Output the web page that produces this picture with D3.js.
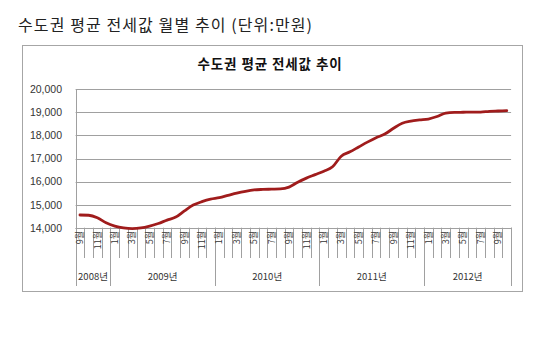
<!DOCTYPE html>
<html><head><meta charset="utf-8">
<script src="https://cdn.jsdelivr.net/npm/d3@7"></script>
<style>
html,body{margin:0;padding:0;background:#fff;}
svg{display:block;}
</style></head>
<body>
<svg id="c" width="550" height="340"></svg>
<script>
const pageTitle = "수도권 평균 전세값 월별 추이 (단위:만원)";
const chartTitle = "수도권 평균 전세값 추이";
const years = ["2008년","2009년","2010년","2011년","2012년"];
const yearMonthCounts = [4,12,12,12,10];
const monthNums = [9,10,11,12,
  1,2,3,4,5,6,7,8,9,10,11,12,
  1,2,3,4,5,6,7,8,9,10,11,12,
  1,2,3,4,5,6,7,8,9,10,11,12,
  1,2,3,4,5,6,7,8,9,10];
const values = [14550,14540,14430,14210,
  14070,13990,13960,13990,14070,14180,14330,14460,14730,14980,15130,15240,
  15300,15400,15500,15580,15640,15660,15670,15680,15760,15970,16150,16300,
  16450,16640,17100,17290,17500,17710,17900,18060,18310,18530,18620,18670,
  18710,18820,18970,19000,19005,19010,19010,19045,19060,19075];
const yTicks = [14000,15000,16000,17000,18000,19000,20000];

(function(){
const svg = d3.select("#c");
const font = "'Liberation Sans', 'Noto Sans CJK KR', sans-serif";
const kfont = "'Noto Sans CJK KR', sans-serif";

svg.append("text").attr("x",18).attr("y",31)
  .attr("font-family",kfont).attr("font-size",16).attr("letter-spacing",1.1).attr("fill","#222")
  .text(pageTitle);

svg.append("rect").attr("x",22.5).attr("y",45.5).attr("width",500).attr("height",246)
  .attr("fill","#fff").attr("stroke","#a6a6a6").attr("stroke-width",1);

svg.append("text").attr("x",270).attr("y",69)
  .attr("text-anchor","middle").attr("font-family",kfont).attr("font-weight","bold")
  .attr("font-size",13.5).attr("letter-spacing",0.9).attr("fill","#111").text(chartTitle);

const pL = 75.6, pR = 511.1, pT = 89.3, pB = 227.7;
const x = d3.scaleBand().domain(d3.range(values.length)).range([pL,pR]);
const y = d3.scaleLinear().domain([14000,20000]).range([pB,pT]);

svg.append("g").selectAll("line").data(yTicks).join("line")
  .attr("x1",pL).attr("x2",pR)
  .attr("y1",d=>Math.round(y(d))+0.5).attr("y2",d=>Math.round(y(d))+0.5)
  .attr("stroke","#a0a0a0").attr("stroke-width",1);

const yAxis = d3.axisLeft(y).tickValues(yTicks).tickSize(0).tickPadding(0)
  .tickFormat(d3.format(","));
const ya = svg.append("g").attr("transform",`translate(62,0)`).call(yAxis);
ya.select(".domain").remove();
ya.selectAll("text").attr("font-family",font).attr("font-size",10.5).attr("fill","#333");
svg.append("line").attr("x1",Math.round(pL)+0.5).attr("x2",Math.round(pL)+0.5)
  .attr("y1",pT).attr("y2",286).attr("stroke","#a0a0a0");

const bounds = d3.range(values.length+1).map(i => pL + i*x.step());
svg.append("g").selectAll("line").data(bounds).join("line")
  .attr("x1",d=>Math.round(d)+0.5).attr("x2",d=>Math.round(d)+0.5)
  .attr("y1",pB).attr("y2",258).attr("stroke","#a0a0a0");

const yearStarts = [0];
yearMonthCounts.forEach((c,i)=>yearStarts.push(yearStarts[i]+c));
svg.append("g").selectAll("line").data(yearStarts).join("line")
  .attr("x1",d=>Math.round(pL+d*x.step())+0.5).attr("x2",d=>Math.round(pL+d*x.step())+0.5)
  .attr("y1",pB).attr("y2",286).attr("stroke","#a0a0a0");

svg.append("g").selectAll("text").data(monthNums.map((m,i)=>({m,i})).filter(d=>d.m%2===1))
  .join("text")
  .attr("transform",d=>`translate(${x(d.i)+x.bandwidth()/2},231) rotate(-90)`)
  .attr("text-anchor","end").attr("dy","0.35em")
  .attr("font-family",kfont).attr("font-size",9).attr("fill","#333")
  .text(d=>d.m+"월");

svg.append("g").selectAll("text").data(years).join("text")
  .attr("x",(d,i)=>pL + (yearStarts[i]+yearMonthCounts[i]/2)*x.step())
  .attr("y",277).attr("dy","0.35em").attr("text-anchor","middle")
  .attr("font-family",kfont).attr("font-size",9.5).attr("fill","#333")
  .text(d=>d);

svg.append("line").attr("x1",pL).attr("x2",pR)
  .attr("y1",Math.round(pB)+0.5).attr("y2",Math.round(pB)+0.5).attr("stroke","#a0a0a0");

const line = d3.line().x((d,i)=>x(i)+x.bandwidth()/2).y(d=>y(d)).curve(d3.curveMonotoneX);
svg.append("path").datum(values).attr("d",line)
  .attr("fill","none").attr("stroke","#a01c1c").attr("stroke-width",2.8)
  .attr("stroke-linejoin","round").attr("stroke-linecap","round");
})();
</script>
</body></html>
